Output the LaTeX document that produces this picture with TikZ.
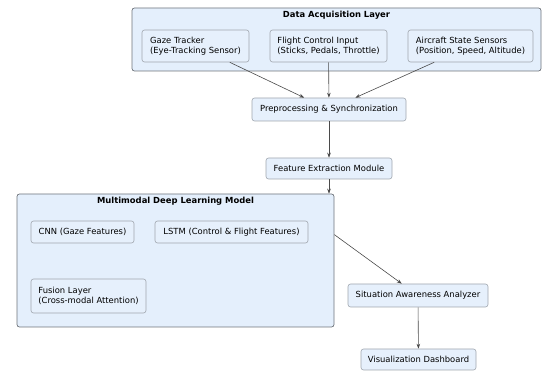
\documentclass[tikz,border=0pt]{standalone}
\usepackage{fontspec}
\setmainfont{DejaVu Sans}
\usetikzlibrary{arrows.meta,calc}
\definecolor{boxfill}{HTML}{E6F0FC}
\definecolor{clusterfill}{HTML}{E4EFFC}
\definecolor{boxline}{HTML}{A0A6AE}
\definecolor{clusterline}{HTML}{6E737A}
\definecolor{edgecol}{HTML}{4A4A4A}
\begin{document}
\begin{tikzpicture}[x=1pt,y=-1pt,
  font=\fontsize{8.4}{10}\selectfont,
  box/.style={draw=boxline, fill=boxfill, rounded corners=2.5pt, line width=0.6pt, align=left, inner sep=0pt},
  cluster/.style={draw=clusterline, fill=clusterfill, rounded corners=2.5pt, line width=0.7pt, inner sep=0pt},
  ctitle/.style={font=\fontsize{8.4}{10}\selectfont\bfseries, inner sep=0pt},
  conn/.style={draw=edgecol, line width=0.6pt, -{Stealth[length=5pt,width=3.6pt]}}]
\useasboundingbox (0,0) rectangle (542,371);
% clusters
\node[cluster, minimum width=409pt, minimum height=63pt] (dal) at (336.5,39.5) {};
\node[ctitle] (daltitle) at (336.5,15) {Data Acquisition Layer};
\node[cluster, minimum width=317pt, minimum height=133pt] (mm) at (175.5,260.5) {};
\node[ctitle] (mmtitle) at (175.5,201) {Multimodal Deep Learning Model};
% nodes
\node[box, minimum width=107pt, minimum height=32pt] (gaze) at (195.5,46) {Gaze Tracker\\(Eye-Tracking Sensor)};
\node[box, minimum width=117pt, minimum height=32pt] (flight) at (328.5,46) {Flight Control Input\\(Sticks, Pedals, Throttle)};
\node[box, minimum width=125pt, minimum height=32pt] (aircraft) at (470.5,46) {Aircraft State Sensors\\(Position, Speed, Altitude)};
\node[box, minimum width=154pt, minimum height=23pt] (prep) at (329,109.5) {Preprocessing \& Synchronization};
\node[box, minimum width=126pt, minimum height=21pt] (feat) at (329,168.5) {Feature Extraction Module};
\node[box, minimum width=103pt, minimum height=22pt] (cnn) at (82.5,232) {CNN (Gaze Features)};
\node[box, minimum width=153pt, minimum height=22pt] (lstm) at (231.5,232) {LSTM (Control \& Flight Features)};
\node[box, minimum width=115pt, minimum height=34pt] (fusion) at (88.5,296) {Fusion Layer\\(Cross-modal Attention)};
\node[box, minimum width=140pt, minimum height=23pt] (sa) at (418,295.5) {Situation Awareness Analyzer};
\node[box, minimum width=115pt, minimum height=21pt] (viz) at (418.5,359.5) {Visualization Dashboard};
% connectors
\coordinate (mmout) at ($(mm.north east)+(0,41)$);
\draw[conn] (gaze) -- (prep);
\draw[conn] (flight) -- (prep);
\draw[conn] (aircraft) -- (prep);
\draw[conn] (prep) -- (feat);
\draw[conn] (feat) -- (feat |- mm.north);
\draw[conn] (mmout) -- (sa);
\draw[conn] (sa) -- (viz);
\end{tikzpicture}
\end{document}
